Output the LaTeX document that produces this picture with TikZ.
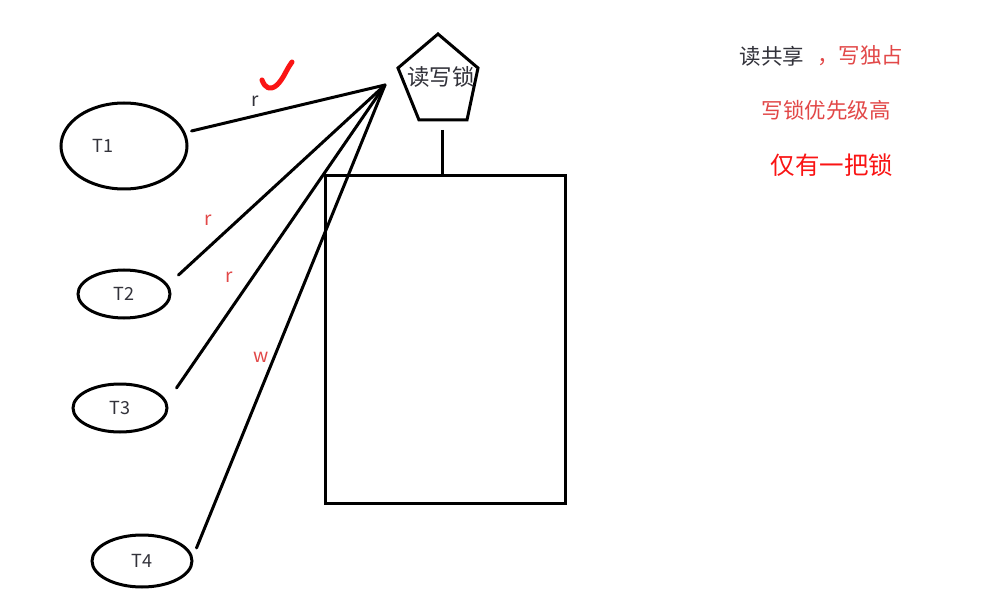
\documentclass[tikz,border=0pt]{standalone}
\usepackage{fontspec}
\setmainfont{Noto Sans CJK SC}
\usetikzlibrary{shapes.geometric}
\definecolor{softred}{RGB}{226,72,72}
\definecolor{brightred}{RGB}{250,20,20}
\definecolor{inkgray}{RGB}{50,50,58}
\tikzset{
  thread/.style={ellipse,draw,line width=3pt,inner sep=0pt,font=\fontsize{18}{18}\selectfont,text=inkgray},
  link/.style={line width=3pt,line cap=round},
  lbl/.style={font=\fontsize{19}{19}\selectfont,inner sep=0pt},
  note/.style={font=\fontsize{21.5}{21.5}\selectfont,inner sep=0pt},
}
\begin{document}
\begin{tikzpicture}[x=1pt,y=-1pt]
\useasboundingbox (0,0) rectangle (997,607);
\fill[white] (0,0) rectangle (997,607);
% threads
\node[thread,minimum width=126pt,minimum height=86pt,label={[xshift=-21pt,font=\fontsize{18}{18}\selectfont,text=inkgray]center:T1}] (T1) at (124,146) {};
\node[thread,minimum width=92pt,minimum height=48pt] (T2) at (124,294) {T2};
\node[thread,minimum width=94pt,minimum height=48pt] (T3) at (120,408) {T3};
\node[thread,minimum width=100pt,minimum height=52pt] (T4) at (142,561) {T4};
% hub
\coordinate (hub) at (385,85);
\draw[link] ([shift={(3,-15)}]T1.east) -- (hub);
\draw[link] ([shift={(7,-19)}]T2.east) -- (hub);
\draw[link] ([shift={(8,-20)}]T3.east) -- (hub);
\draw[link] ([shift={(3,-13)}]T4.east) -- (hub);
% lock pentagon
\draw[line width=3pt,line join=miter] (438,34) -- (478,68) -- (467,120) -- (419,120) -- (398,68) -- cycle;
\node[font=\fontsize{22.5}{22.5}\selectfont,text=inkgray,inner sep=0pt] (lock) at (441,77) {读写锁};
\coordinate (lockb) at (442,130);
% resource box
\node[draw,line width=3pt,minimum width=240pt,minimum height=327pt,inner sep=0pt] (box) at (445,339.5) {};
\draw[line width=3pt] (lockb) -- (lockb |- box.north);
% labels
\node[lbl,text=inkgray] (r1) at (255,101) {r};
\draw[brightred,line width=5pt,line cap=round,line join=round] (262,80) .. controls (265,88) and (270,91) .. (277,85) .. controls (284,78) and (286,70) .. (292,62);
\node[lbl,text=softred] (r2) at (208,220) {r};
\node[lbl,text=softred] (r3) at (229,277) {r};
\node[lbl,text=softred] (w4) at (261,357) {w};
% notes
\node[note,text=inkgray] (n1) at (772,56) {读共享};
\node[note,text=softred,anchor=west] (n2) at (817,56) {，写独占};
\node[note,text=softred] (n3) at (826,110) {写锁优先级高};
\node[font=\fontsize{24.5}{24.5}\selectfont,text=brightred,inner sep=0pt] (n4) at (832,165) {仅有一把锁};
\end{tikzpicture}
\end{document}
